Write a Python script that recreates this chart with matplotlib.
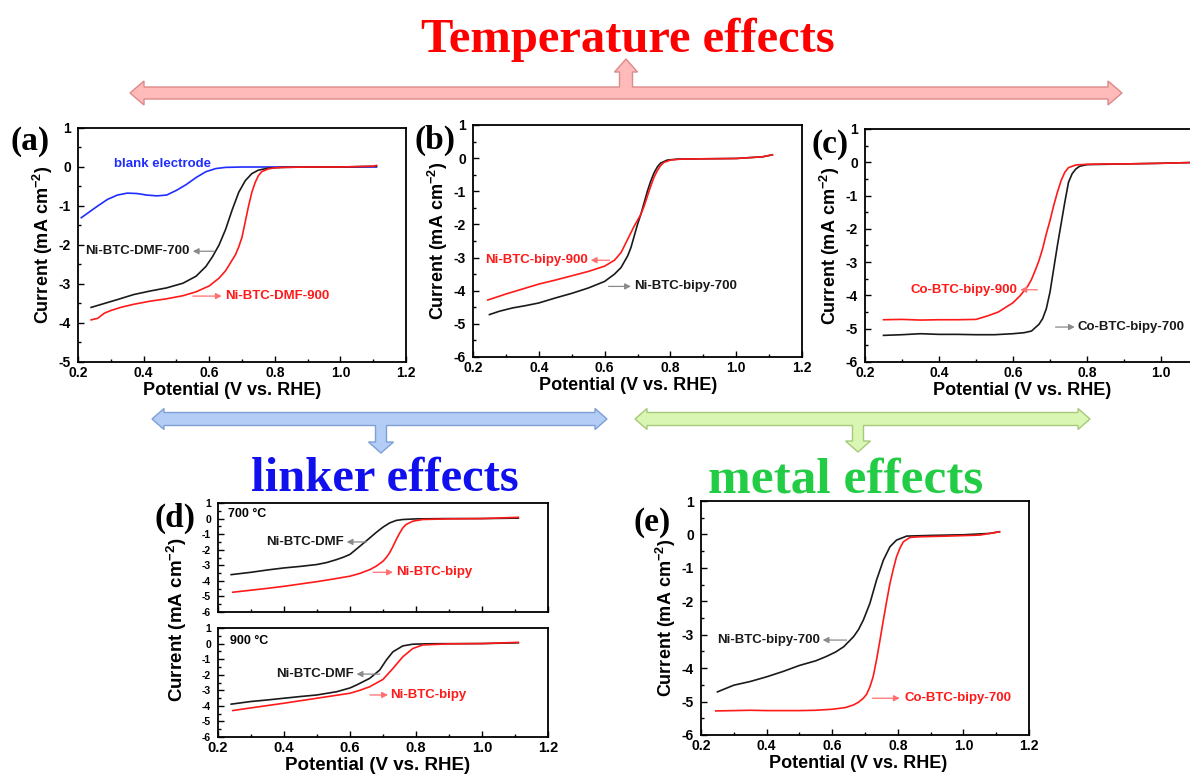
import matplotlib
matplotlib.use("Agg")
import matplotlib.pyplot as plt
from matplotlib.patches import Polygon
from matplotlib.ticker import MultipleLocator

plt.rcParams['font.family'] = ['Liberation Sans', 'DejaVu Sans']
plt.rcParams['font.weight'] = 'bold'
plt.rcParams['axes.unicode_minus'] = False
plt.rcParams['mathtext.fontset'] = 'custom'
plt.rcParams['mathtext.rm'] = 'Liberation Sans:bold'
plt.rcParams['mathtext.bf'] = 'Liberation Sans:bold'
plt.rcParams['mathtext.default'] = 'bf'

BLACK = '#1a1a1a'
RED = '#ff1a1a'
BLUE = '#1f2dff'

# ---- (a) temperature, Ni-BTC-DMF ----
a_blank_x = [0.21, 0.23, 0.26, 0.29, 0.32, 0.35, 0.38, 0.41, 0.44, 0.47, 0.50, 0.53,
             0.56, 0.59, 0.62, 0.65, 0.70, 0.80, 0.90, 1.00, 1.11]
a_blank_y = [-1.30, -1.18, -1.00, -0.83, -0.72, -0.67, -0.68, -0.72, -0.74, -0.72, -0.60, -0.45,
             -0.27, -0.12, -0.04, -0.01, 0.0, 0.0, 0.0, 0.0, 0.0]
a_700_x = [0.24, 0.28, 0.32, 0.37, 0.42, 0.47, 0.52, 0.56, 0.59, 0.61, 0.63, 0.65, 0.67,
           0.69, 0.71, 0.73, 0.75, 0.78, 0.82, 0.90, 1.00, 1.11]
a_700_y = [-3.60, -3.50, -3.40, -3.27, -3.18, -3.10, -2.98, -2.80, -2.55, -2.30, -2.00, -1.60, -1.10,
           -0.65, -0.35, -0.17, -0.08, -0.03, -0.01, 0.0, 0.0, 0.02]
a_900_x = [0.24, 0.26, 0.28, 0.30, 0.33, 0.37, 0.42, 0.47, 0.52, 0.56, 0.60, 0.63, 0.65, 0.68,
           0.69, 0.70, 0.71, 0.72, 0.73, 0.74, 0.75, 0.76, 0.78, 0.80, 0.83, 0.90, 1.00, 1.10, 1.11]
a_900_y = [-3.92, -3.88, -3.75, -3.68, -3.60, -3.52, -3.44, -3.38, -3.30, -3.20, -3.05, -2.85, -2.66, -2.25,
           -2.05, -1.80, -1.40, -1.00, -0.65, -0.40, -0.22, -0.12, -0.05, -0.02, -0.01, 0.0, 0.0, 0.02, 0.04]

# ---- (b) temperature, Ni-BTC-bipy ----
b_700_x = [0.25, 0.28, 0.32, 0.36, 0.40, 0.45, 0.50, 0.55, 0.60, 0.63, 0.65, 0.67, 0.68, 0.70,
           0.71, 0.72, 0.73, 0.74, 0.75, 0.76, 0.77, 0.79, 0.82, 0.90, 1.00, 1.08, 1.11]
b_700_y = [-4.72, -4.62, -4.52, -4.45, -4.37, -4.22, -4.08, -3.92, -3.72, -3.50, -3.30, -2.95, -2.70, -2.00,
           -1.70, -1.35, -1.00, -0.70, -0.45, -0.27, -0.15, -0.06, -0.03, -0.02, -0.01, 0.04, 0.10]
b_900_x = [0.245, 0.30, 0.35, 0.40, 0.45, 0.50, 0.55, 0.60, 0.63, 0.65, 0.67, 0.69, 0.71, 0.72,
           0.73, 0.74, 0.75, 0.76, 0.77, 0.78, 0.80, 0.83, 0.90, 1.00, 1.08, 1.11]
b_900_y = [-4.28, -4.10, -3.95, -3.80, -3.68, -3.55, -3.42, -3.26, -3.08, -2.85, -2.45, -2.05, -1.70, -1.45,
           -1.15, -0.85, -0.58, -0.38, -0.23, -0.13, -0.06, -0.03, -0.02, -0.01, 0.04, 0.10]

# ---- (c) temperature, Co-BTC-bipy ----
c_700_x = [0.25, 0.30, 0.35, 0.40, 0.45, 0.50, 0.55, 0.60, 0.63, 0.65, 0.67, 0.68, 0.69, 0.70,
           0.71, 0.72, 0.73, 0.74, 0.75, 0.76, 0.77, 0.78, 0.80, 0.85, 0.90, 1.00, 1.11]
c_700_y = [-5.20, -5.18, -5.15, -5.17, -5.17, -5.18, -5.18, -5.15, -5.12, -5.07, -4.87, -4.70, -4.40, -3.90,
           -3.20, -2.50, -1.85, -1.20, -0.60, -0.34, -0.20, -0.12, -0.07, -0.06, -0.05, -0.03, 0.0]
c_900_x = [0.25, 0.30, 0.35, 0.40, 0.45, 0.50, 0.53, 0.56, 0.60, 0.62, 0.64, 0.65, 0.66, 0.67,
           0.68, 0.69, 0.70, 0.71, 0.72, 0.73, 0.74, 0.75, 0.77, 0.80, 0.85, 0.90, 1.00, 1.11]
c_900_y = [-4.73, -4.72, -4.74, -4.73, -4.73, -4.72, -4.62, -4.50, -4.22, -4.00, -3.72, -3.52, -3.25, -2.96,
           -2.60, -2.15, -1.75, -1.30, -0.90, -0.55, -0.30, -0.16, -0.08, -0.06, -0.05, -0.05, -0.03, 0.0]

# ---- (d) linker, 700 C ----
d7_dmf_x = [0.24, 0.30, 0.35, 0.40, 0.45, 0.50, 0.53, 0.56, 0.58, 0.60, 0.62, 0.64, 0.66,
            0.68, 0.70, 0.72, 0.74, 0.76, 0.80, 0.90, 1.00, 1.11]
d7_dmf_y = [-3.60, -3.45, -3.30, -3.17, -3.07, -2.95, -2.82, -2.63, -2.48, -2.30, -1.95, -1.60, -1.24,
            -0.88, -0.55, -0.28, -0.12, -0.06, -0.02, 0.0, 0.0, 0.03]
d7_bipy_x = [0.245, 0.30, 0.35, 0.40, 0.45, 0.50, 0.55, 0.60, 0.63, 0.66, 0.68, 0.70, 0.71, 0.72,
             0.73, 0.74, 0.75, 0.76, 0.77, 0.79, 0.82, 0.90, 1.00, 1.11]
d7_bipy_y = [-4.73, -4.60, -4.48, -4.35, -4.20, -4.05, -3.88, -3.70, -3.52, -3.28, -3.05, -2.74, -2.50, -2.20,
             -1.80, -1.35, -0.95, -0.60, -0.38, -0.17, -0.06, -0.02, 0.0, 0.08]

# ---- (d) linker, 900 C ----
d9_dmf_x = [0.24, 0.30, 0.35, 0.40, 0.45, 0.50, 0.56, 0.60, 0.62, 0.66, 0.69, 0.71, 0.73,
            0.76, 0.79, 0.85, 1.00, 1.11]
d9_dmf_y = [-3.89, -3.72, -3.62, -3.51, -3.40, -3.30, -3.09, -2.85, -2.66, -2.23, -1.70, -1.06, -0.53,
            -0.15, -0.04, -0.01, 0.0, 0.05]
d9_bipy_x = [0.245, 0.30, 0.35, 0.40, 0.45, 0.50, 0.55, 0.60, 0.63, 0.66, 0.70, 0.73, 0.76,
             0.79, 0.82, 0.90, 1.00, 1.11]
d9_bipy_y = [-4.30, -4.13, -3.98, -3.83, -3.67, -3.51, -3.35, -3.19, -3.00, -2.77, -2.30, -1.60, -0.85,
             -0.32, -0.09, -0.02, 0.0, 0.08]

# ---- (e) metal, 700 C ----
e_ni_x = [0.25, 0.30, 0.35, 0.40, 0.45, 0.50, 0.55, 0.58, 0.61, 0.635, 0.665, 0.68, 0.695, 0.715,
          0.735, 0.756, 0.776, 0.796, 0.827, 0.90, 1.00, 1.08, 1.11]
e_ni_y = [-4.71, -4.51, -4.40, -4.26, -4.10, -3.92, -3.78, -3.66, -3.52, -3.36, -3.06, -2.85, -2.56, -2.06,
          -1.37, -0.77, -0.37, -0.17, -0.05, -0.03, -0.01, 0.03, 0.08]
e_co_x = [0.245, 0.30, 0.35, 0.40, 0.45, 0.50, 0.55, 0.60, 0.64, 0.665, 0.68, 0.695, 0.705, 0.715,
          0.725, 0.735, 0.745, 0.756, 0.766, 0.776, 0.786, 0.796, 0.807, 0.817, 0.837, 0.867, 0.95, 1.05, 1.11]
e_co_y = [-5.28, -5.27, -5.26, -5.27, -5.27, -5.27, -5.26, -5.23, -5.18, -5.10, -5.02, -4.90, -4.78, -4.56,
          -4.25, -3.76, -3.20, -2.56, -2.00, -1.47, -1.05, -0.67, -0.40, -0.22, -0.09, -0.07, -0.05, -0.02, 0.08]

x_ticks = [0.2, 0.4, 0.6, 0.8, 1.0, 1.2]

W, H = 1190, 779
fig = plt.figure(figsize=(11.9, 7.79), dpi=100)


def add_panel(left, top, right, bottom):
    return fig.add_axes([left / W, 1 - bottom / H, (right - left) / W, (bottom - top) / H])


def style_axes(ax, ymin, ysize=10, xsize=10, xlabels=True, ylabel=True, xlabel=True,
               lsize=13, label_x=0.5, ticks=x_ticks):
    ax.set_xlim(0.2, 1.2)
    ax.set_ylim(ymin, 1)
    ax.set_xticks(ticks)
    ax.xaxis.set_minor_locator(MultipleLocator(0.1))
    ax.yaxis.set_major_locator(MultipleLocator(1))
    ax.yaxis.set_minor_locator(MultipleLocator(0.5))
    ax.xaxis.set_major_formatter('{x:.1f}')
    ax.yaxis.set_major_formatter('{x:.0f}')
    ax.tick_params(which='both', direction='in', top=False, right=False, width=1.0)
    ax.tick_params(which='major', length=4.5)
    ax.tick_params(which='minor', length=2.5)
    ax.tick_params(axis='x', labelsize=xsize, pad=3, labelbottom=xlabels)
    ax.tick_params(axis='y', labelsize=ysize, pad=5)
    for s in ax.spines.values():
        s.set_linewidth(1.3)
    if xlabel:
        ax.set_xlabel('Potential (V vs. RHE)', fontsize=lsize, fontweight='bold', labelpad=1)
        ax.xaxis.label.set_x(label_x)
    if ylabel:
        ax.set_ylabel('Current (mA cm$^{-2}$)', fontsize=lsize, fontweight='bold', labelpad=3)


def tag(ax, text, color, tx, ty, tail, tip, ha, size=9.5):
    lead = '#8a8a8a' if color == BLACK else '#ff7070'
    ax.annotate('', xy=(tip, ty), xytext=(tail, ty),
                arrowprops=dict(arrowstyle='-|>,head_length=0.35,head_width=0.18',
                                color=lead, lw=0.9, shrinkA=0, shrinkB=0))
    ax.text(tx, ty, text, color=color, fontsize=size, ha=ha, va='center', fontweight='bold')


lw = 1.2

# (a)
ax = add_panel(78, 128, 406, 362)
ax.plot(a_blank_x, a_blank_y, color=BLUE, lw=lw)
ax.plot(a_700_x, a_700_y, color=BLACK, lw=lw)
ax.plot(a_900_x, a_900_y, color=RED, lw=lw)
style_axes(ax, -5, label_x=0.47)
ax.text(0.31, 0.08, 'blank electrode', color=BLUE, fontsize=9.5, ha='left', va='center')
tag(ax, 'Ni-BTC-DMF-700', BLACK, 0.54, -2.16, 0.615, 0.55, 'right')
tag(ax, 'Ni-BTC-DMF-900', RED, 0.648, -3.31, 0.55, 0.638, 'left')

# (b)
ax = add_panel(473, 125, 802, 357)
ax.plot(b_700_x, b_700_y, color=BLACK, lw=lw)
ax.plot(b_900_x, b_900_y, color=RED, lw=lw)
style_axes(ax, -6, label_x=0.47)
tag(ax, 'Ni-BTC-bipy-900', RED, 0.55, -3.08, 0.615, 0.558, 'right')
tag(ax, 'Ni-BTC-bipy-700', BLACK, 0.69, -3.87, 0.612, 0.68, 'left')

# (c) runs past the right edge of the figure, so its 1.2 label is not shown
ax = add_panel(865, 129, 1235, 362)
ax.plot(c_700_x, c_700_y, color=BLACK, lw=lw)
ax.plot(c_900_x, c_900_y, color=RED, lw=lw)
style_axes(ax, -6, label_x=0.425, ticks=x_ticks[:-1])
tag(ax, 'Co-BTC-bipy-900', RED, 0.613, -3.83, 0.666, 0.62, 'right')
tag(ax, 'Co-BTC-bipy-700', BLACK, 0.773, -4.95, 0.715, 0.767, 'left')

# (d) two stacked panels
ax = add_panel(218, 503, 548, 612)
ax.plot(d7_dmf_x, d7_dmf_y, color=BLACK, lw=lw)
ax.plot(d7_bipy_x, d7_bipy_y, color=RED, lw=lw)
style_axes(ax, -6, ysize=7.5, xlabels=False, ylabel=False, xlabel=False)
ax.text(0.03, 0.9, '700 °C', transform=ax.transAxes, fontsize=9, ha='left', va='center')
tag(ax, 'Ni-BTC-DMF', BLACK, 0.58, -1.5, 0.65, 0.59, 'right')
tag(ax, 'Ni-BTC-bipy', RED, 0.74, -3.45, 0.67, 0.73, 'left')

ax = add_panel(218, 628, 548, 737)
ax.plot(d9_dmf_x, d9_dmf_y, color=BLACK, lw=lw)
ax.plot(d9_bipy_x, d9_bipy_y, color=RED, lw=lw)
style_axes(ax, -6, ysize=7.5, xsize=10.5, ylabel=False, lsize=13.5, label_x=0.485)
ax.text(0.035, 0.88, '900 °C', transform=ax.transAxes, fontsize=9, ha='left', va='center')
tag(ax, 'Ni-BTC-DMF', BLACK, 0.611, -1.96, 0.69, 0.62, 'right')
tag(ax, 'Ni-BTC-bipy', RED, 0.722, -3.3, 0.66, 0.715, 'left')
fig.text(177 / W, 1 - 620 / H, 'Current (mA cm$^{-2}$)', rotation=90, fontsize=13.5,
         fontweight='bold', ha='center', va='center')

# (e)
ax = add_panel(701, 501, 1029, 735)
ax.plot(e_ni_x, e_ni_y, color=BLACK, lw=lw)
ax.plot(e_co_x, e_co_y, color=RED, lw=lw)
style_axes(ax, -6, label_x=0.48)
tag(ax, 'Ni-BTC-bipy-700', BLACK, 0.563, -3.16, 0.644, 0.571, 'right')
tag(ax, 'Co-BTC-bipy-700', RED, 0.82, -4.9, 0.723, 0.806, 'left')

# overlay in pixel coordinates: arrows, headings, panel letters
ov = fig.add_axes([0, 0, 1, 1], facecolor='none')
ov.set_xlim(0, W)
ov.set_ylim(H, 0)
ov.axis('off')


def bracket_arrow(x0, x1, y, stem_x, tip_y, face, edge, t=6, h=12, L=14, sw=6, hw=12, hl=12):
    down = tip_y > y
    ys = y + t if down else y - t
    yb = tip_y - hl if down else tip_y + hl
    stem = [(stem_x - sw, ys), (stem_x - sw, yb), (stem_x - hw, yb), (stem_x, tip_y),
            (stem_x + hw, yb), (stem_x + sw, yb), (stem_x + sw, ys)]
    pts = [(x0, y), (x0 + L, y - h), (x0 + L, y - t)]
    if not down:
        pts += stem
    pts += [(x1 - L, y - t), (x1 - L, y - h), (x1, y), (x1 - L, y + h), (x1 - L, y + t)]
    if down:
        pts += stem[::-1]
    pts += [(x0 + L, y + t), (x0 + L, y + h)]
    ov.add_patch(Polygon(pts, closed=True, facecolor=face, edgecolor=edge, lw=1.0))


bracket_arrow(130, 1122, 93, 626, 59, '#ffbaba', '#dc8a8a', t=6, h=12, L=14, sw=6.5, hw=11.5, hl=13)
bracket_arrow(152, 607, 419, 381, 453, '#b4cdf6', '#7d9fd6', t=6.5, h=10.5, L=12, sw=5.5, hw=12.5, hl=11)
bracket_arrow(635, 1090, 419, 858, 452, '#d9f6b2', '#a6c97c', t=6.5, h=10.5, L=12, sw=5.5, hw=12.5, hl=11)

serif = ['Liberation Serif', 'DejaVu Serif']
ov.text(628, 52, 'Temperature effects', color='#ff0000', fontsize=35, family=serif,
        fontweight='bold', ha='center', va='baseline')
ov.text(385, 491, 'linker effects', color='#1010ee', fontsize=35, family=serif,
        fontweight='bold', ha='center', va='baseline')
ov.text(846, 492, 'metal effects', color='#22cc44', fontsize=37, family=serif,
        fontweight='bold', ha='center', va='baseline')

for label, x, y in [('(a)', 30, 141), ('(b)', 435, 140), ('(c)', 830, 144),
                    ('(d)', 175, 518), ('(e)', 652, 523)]:
    ov.text(x, y, label, fontsize=24, family=serif, fontweight='bold', ha='center', va='center')

fig.savefig('out.png', dpi=100)
